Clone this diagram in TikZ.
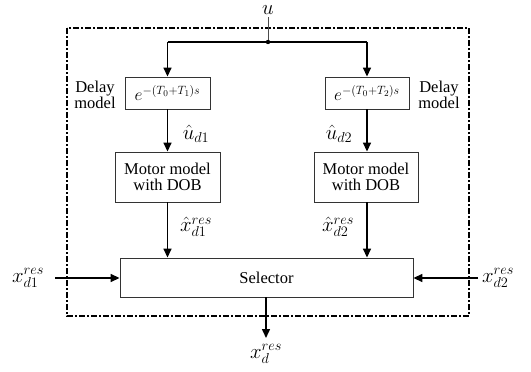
\documentclass[tikz,border=0pt]{standalone}
\usepackage{fontspec}
\setmainfont{Liberation Serif}
\usetikzlibrary{arrows.meta}
\begin{document}
\begin{tikzpicture}[x=1pt,y=-1pt,
  font=\fontsize{16.5}{19}\selectfont,
  blk/.style={draw=black!80,line width=0.9pt,inner sep=0pt},
  conn/.style={line width=1.5pt,-{Triangle[length=9pt,width=8pt]}},
  wire/.style={line width=1.5pt},
  lbl/.style={inner sep=0pt,font=\fontsize{20}{23}\selectfont}]
\useasboundingbox (0,0) rectangle (531,372);
% dashed enclosure
\draw[line width=2pt,dash pattern=on 6pt off 2pt on 2pt off 2pt] (67,28) rectangle (469,316);
% blocks
\node[blk,minimum width=85pt,minimum height=32pt,font=\fontsize{18}{21}\selectfont] (d1) at (167.5,93) {$e^{-(T_0+T_1)s}$};
\node[blk,minimum width=84pt,minimum height=32pt,font=\fontsize{18}{21}\selectfont] (d2) at (367,93) {$e^{-(T_0+T_2)s}$};
\node[blk,minimum width=105pt,minimum height=50pt,align=center] (m1) at (167.5,177) {Motor model\\[-3pt]with DOB};
\node[blk,minimum width=104pt,minimum height=50pt,align=center] (m2) at (366,177) {Motor model\\[-3pt]with DOB};
\node[blk,minimum width=293pt,minimum height=39pt] (sel) at (266.5,277.5) {Selector};
% labels
\node[lbl,anchor=base] (u) at (268,14) {$u$};
\node[inner sep=0pt,align=center] (dl1) at (95,95) {Delay\\[-3pt]model};
\node[inner sep=0pt,align=center] (dl2) at (439,95) {Delay\\[-3pt]model};
\node[lbl] (ud1) at (196,134) {$\hat{u}_{d1}$};
\node[lbl] (ud2) at (339,134) {$\hat{u}_{d2}$};
\node[lbl] (xh1) at (196,227) {$\hat{x}^{res}_{d1}$};
\node[lbl] (xh2) at (338,227) {$\hat{x}^{res}_{d2}$};
\node[lbl] (x1) at (28,278) {$x^{res}_{d1}$};
\node[lbl] (x2) at (498,278) {$x^{res}_{d2}$};
\node[lbl] (xo) at (266,354) {$x^{res}_{d}$};
% coordinates
\coordinate (j) at (268,42);
\coordinate (ustart) at (268,17);
\coordinate (jl) at (d1.north |- j);
\coordinate (jr) at (d2.north |- j);
\coordinate (inl) at (55,278);
\coordinate (inr) at (478,278);
\coordinate (out) at (266,338);
% connectors
\draw[line width=1pt,black!70] (ustart) -- (j);
\fill (j) circle (2.2pt);
\draw[wire] (jl) -- (jr);
\draw[conn] (jl) -- (d1.north);
\draw[conn] (jr) -- (d2.north);
\draw[conn] (d1.south) -- (m1.north -| d1.south);
\draw[conn] (d2.south) -- (m2.north -| d2.south);
\draw[conn] (m1.south -| d1.south) -- (sel.north -| d1.south);
\draw[conn] (m2.south -| d2.south) -- (sel.north -| d2.south);
\draw[conn] (inl) -- (sel.west |- inl);
\draw[conn] (inr) -- (sel.east |- inr);
\draw[conn] (sel.south -| out) -- (out);
\end{tikzpicture}
\end{document}
